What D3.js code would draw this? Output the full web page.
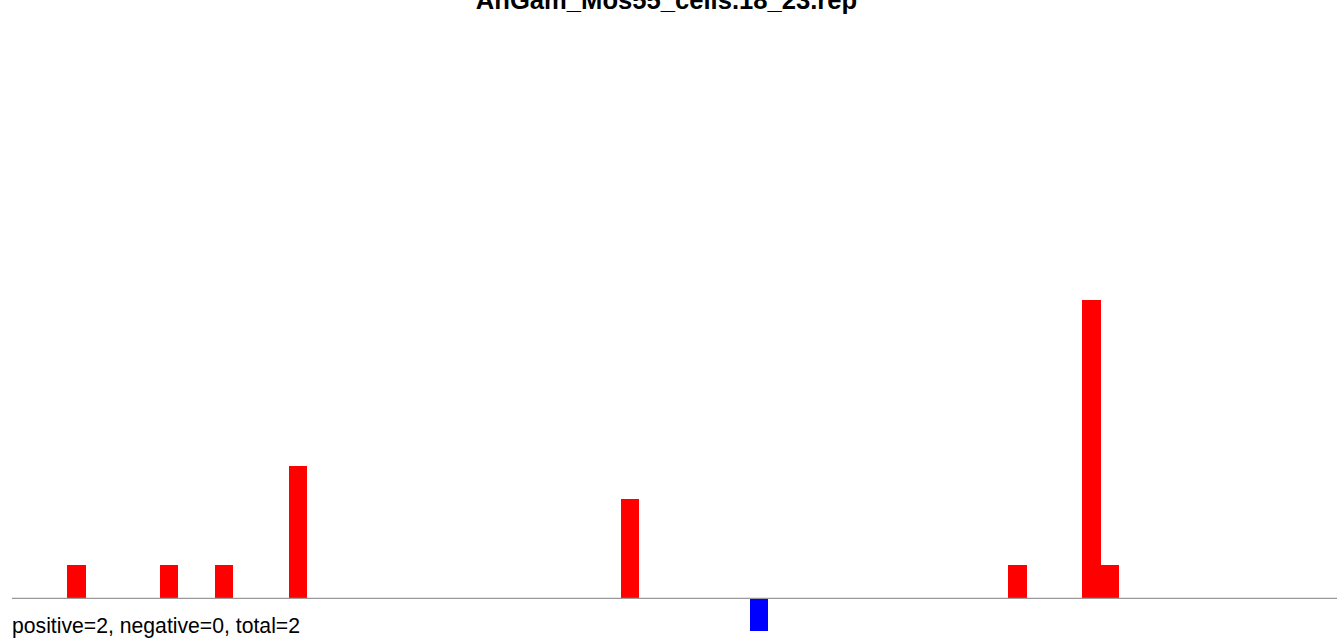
<!DOCTYPE html>
<html><head><meta charset="utf-8">
<script src="https://cdn.jsdelivr.net/npm/d3@7"></script>
<style>html,body{margin:0;padding:0;background:#fff;overflow:hidden}</style>
</head><body><svg id="c" width="1337" height="638"></svg>
<script>
const title = "AnGam_Mos55_cells.18_23.rep";
const footer = "positive=2, negative=0, total=2";
const binCount = 72;
const binIndex = [3, 8, 11, 15, 33, 40, 54, 58, 59];
const values   = [1, 1, 1, 4, 3, -1, 1, 9, 1];

const svg = d3.select("#c");
const x = d3.scaleLinear().domain([0, binCount]).range([12, 12 + binCount * 18.45]);
const y = d3.scaleLinear().domain([0, 9]).range([598.3, 300]);

svg.selectAll("rect.bar").data(values).enter().append("rect")
  .attr("x", (d, i) => x(binIndex[i]))
  .attr("width", x(1) - x(0))
  .attr("y", d => d > 0 ? y(d) : y(0))
  .attr("height", d => Math.abs(y(d) - y(0)))
  .attr("fill", d => d > 0 ? "#ff0000" : "#0000ff")
  .attr("shape-rendering", "crispEdges");

svg.append("line").attr("x1", 12).attr("x2", 1337)
  .attr("y1", y(0)).attr("y2", y(0))
  .attr("stroke", "#999").attr("stroke-width", 1.3);

svg.append("text").attr("x", 666.5).attr("y", 9)
  .attr("text-anchor", "middle")
  .attr("font-family", "Liberation Sans, Arial, sans-serif")
  .attr("font-weight", "bold").attr("font-size", 25.6)
  .text(title);

svg.append("text").attr("x", 12).attr("y", 633)
  .attr("font-family", "Liberation Sans, Arial, sans-serif")
  .attr("font-size", 21.2)
  .text(footer);
</script></body></html>
